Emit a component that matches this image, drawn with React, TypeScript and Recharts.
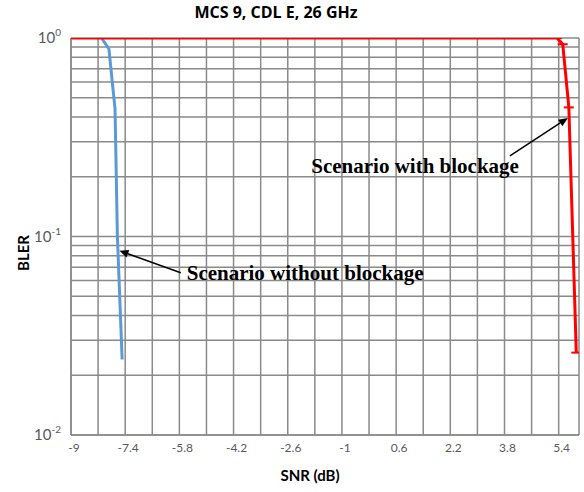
import { LineChart, Line, XAxis, YAxis, CartesianGrid, ReferenceLine } from "recharts";

const xTicks = [-9, -8.2, -7.4, -6.6, -5.8, -5, -4.2, -3.4, -2.6, -1.8, -1, -0.2, 0.6, 1.4, 2.2, 3, 3.8, 4.6, 5.4, 6];
const xLabels = ["-9", "-7.4", "-5.8", "-4.2", "-2.6", "-1", "0.6", "2.2", "3.8", "5.4"];
const yTicks = [
  0.01, 0.02, 0.03, 0.04, 0.05, 0.06, 0.07, 0.08, 0.09,
  0.1, 0.2, 0.3, 0.4, 0.5, 0.6, 0.7, 0.8, 0.9, 1,
];
const yDecades = { 0.01: "-2", 0.1: "-1", 1: "0" } as Record<number, string>;

// without blockage (blue)
const noBlockSnr = [-8.1, -7.88, -7.7, -7.63, -7.49];
const noBlockBler = [1, 0.88, 0.44, 0.1, 0.024];
// with blockage (red)
const blockSnr = [-9, 5.35, 5.52, 5.7, 5.92];
const blockBler = [1, 1, 0.93, 0.447, 0.026];

const noBlock = noBlockSnr.map((snr, i) => ({ snr, bler: noBlockBler[i] }));
const block = blockSnr.map((snr, i) => ({ snr, bler: blockBler[i] }));

const fontSans = "Lato, 'Open Sans', sans-serif";
const fontSerif = "'Liberation Serif', 'DejaVu Serif', serif";

function YTick(props: any) {
  const { x, y, payload } = props;
  const exp = yDecades[payload.value];
  if (exp === undefined) return null;
  return (
    <text x={x - 2} y={y + 5} textAnchor="end" fill="#595959" fontFamily={fontSans} fontSize={15}>
      10
      <tspan fontSize={10} dy={-7}>{exp}</tspan>
    </text>
  );
}

function arrowShape(text: string, anchor: "start" | "end", dx: number, dy: number) {
  return (p: any) => {
    const { x1, y1, x2, y2 } = p;
    const ang = Math.atan2(y2 - y1, x2 - x1);
    const len = 9;
    const w = 4;
    const bx = x2 - len * Math.cos(ang);
    const by = y2 - len * Math.sin(ang);
    const px = -Math.sin(ang) * w;
    const py = Math.cos(ang) * w;
    return (
      <g>
        <line x1={x1} y1={y1} x2={bx} y2={by} stroke="#000" strokeWidth={1.5} />
        <polygon points={`${x2},${y2} ${bx + px},${by + py} ${bx - px},${by - py}`} fill="#000" />
        <text
          x={x1 + dx}
          y={y1 + dy}
          textAnchor={anchor}
          dominantBaseline="middle"
          fontFamily={fontSerif}
          fontWeight="bold"
          fontSize={21}
          fill="#000"
        >
          {text}
        </text>
      </g>
    );
  };
}

function Dash(props: any) {
  const { cx, cy } = props;
  if (cx == null || cy == null) return null;
  return <line x1={cx - 5} y1={cy} x2={cx + 5} y2={cy} stroke="#ff0000" strokeWidth={2} />;
}

export default function App() {
  return (
    <div style={{ position: "absolute", left: 0, top: 0, width: 584, height: 492, background: "#fff" }}>
      <div
        style={{
          position: "absolute",
          left: 0,
          width: 552,
          top: 1,
          textAlign: "center",
          fontFamily: "'Open Sans', Lato, sans-serif",
          fontWeight: "bold",
          fontSize: 16,
        }}
      >
        MCS 9, CDL E, 26 GHz
      </div>
      <div
        style={{
          position: "absolute",
          left: 0,
          top: 244,
          width: 46,
          textAlign: "center",
          transform: "rotate(-90deg)",
          fontFamily: fontSans,
          fontWeight: "bold",
          fontSize: 15,
        }}
      >
        BLER
      </div>
      <div
        style={{
          position: "absolute",
          left: 260,
          width: 100,
          top: 466,
          textAlign: "center",
          fontFamily: fontSans,
          fontWeight: "bold",
          fontSize: 15,
        }}
      >
        SNR (dB)
      </div>
      <LineChart width={584} height={492} margin={{ top: 38, right: 5, left: 11, bottom: 17 }}>
        <CartesianGrid stroke="#8a8a8a" strokeWidth={1.5} />
        <XAxis
          type="number"
          dataKey="snr"
          domain={[-9, 6]}
          ticks={xTicks}
          interval={0}
          allowDataOverflow
          tickLine={false}
          axisLine={{ stroke: "#8a8a8a", strokeWidth: 1.5 }}
          tickFormatter={(v: number) => (xLabels.includes(String(v)) ? String(v) : "")}
          tick={{ fill: "#595959", fontFamily: fontSans, fontSize: 12, dx: 3 }}
          height={40}
        />
        <YAxis
          type="number"
          dataKey="bler"
          scale="log"
          domain={[0.01, 1]}
          ticks={yTicks}
          interval={0}
          allowDataOverflow
          tickLine={false}
          axisLine={{ stroke: "#8a8a8a", strokeWidth: 1.5 }}
          tick={<YTick />}
          width={60}
        />
        <Line
          data={noBlock}
          dataKey="bler"
          stroke="#5b9bd5"
          strokeWidth={3}
          dot={false}
          isAnimationActive={false}
          type="linear"
        />
        <Line
          data={block}
          dataKey="bler"
          stroke="#ff0000"
          strokeWidth={3}
          dot={<Dash />}
          isAnimationActive={false}
          type="linear"
        />
        <ReferenceLine
          segment={[{ x: 3.96, y: 0.255 }, { x: 5.67, y: 0.395 }]}
          shape={arrowShape("Scenario with blockage", "end", 9, 12)}
        />
        <ReferenceLine
          segment={[{ x: -5.76, y: 0.0657 }, { x: -7.57, y: 0.0848 }]}
          shape={arrowShape("Scenario without blockage", "start", 6, 2)}
        />
      </LineChart>
    </div>
  );
}
